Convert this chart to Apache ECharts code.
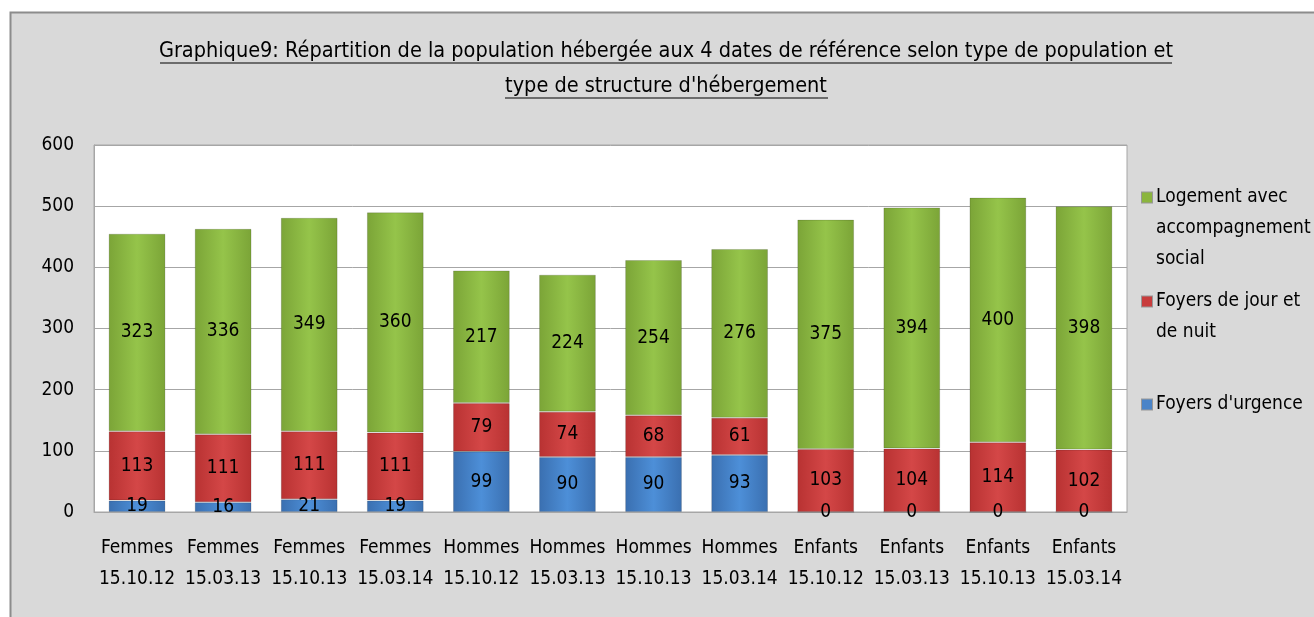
<!DOCTYPE html>
<html><head><meta charset="utf-8">
<script src="https://cdn.jsdelivr.net/npm/echarts@6/dist/echarts.min.js"></script>
<style>html,body{margin:0;padding:0;background:#fff}#c{width:1314px;height:617px}</style>
</head><body><div id="c"></div>
<script>
const categories = ['Femmes\n15.10.12','Femmes\n15.03.13','Femmes\n15.10.13','Femmes\n15.03.14','Hommes\n15.10.12','Hommes\n15.03.13','Hommes\n15.10.13','Hommes\n15.03.14','Enfants\n15.10.12','Enfants\n15.03.13','Enfants\n15.10.13','Enfants\n15.03.14'];
const urgence = [19,16,21,19,99,90,90,93,0,0,0,0];
const jourNuit = [113,111,111,111,79,74,68,61,103,104,114,102];
const logement = [323,336,349,360,217,224,254,276,375,394,400,398];
const yTicks = [0,100,200,300,400,500,600];
const names = ["Foyers d'urgence","Foyers de jour et de nuit","Logement avec accompagnement social"];
const legendLines = {"Logement avec accompagnement social":["Logement avec","accompagnement","social"],"Foyers de jour et de nuit":["Foyers de jour et","de nuit"],"Foyers d'urgence":["Foyers d'urgence"]};

const FONT = "'Liberation Sans Narrow','DejaVu Sans Condensed',sans-serif";
function grad(a,b,c){return new echarts.graphic.LinearGradient(0,0,1,0,[{offset:0,color:a},{offset:0.5,color:b},{offset:1,color:c}]);}
const colors = [grad('#3a6fb0','#4d8fd8','#3a6fb0'), grad('#b83232','#d44747','#b83232'), grad('#7ba437','#95c44a','#7ba437')];
const legendColors = ['#4a84c8','#c83c3c','#8bb53e'];
const data = [urgence, jourNuit, logement];
const legendTops = {2:182, 1:286, 0:389};

function makeLegend(i){
  const n = names[i];
  return {orient:'vertical',left:1137,top:legendTops[i],padding:0,icon:'none',itemWidth:0,itemHeight:0,itemGap:0,
    data:[n],
    formatter:nm=>legendLines[nm].map((l,k)=>(k===0?'{b|}':'{s|}')+'{t|'+l+'}').join('\n'),
    textStyle:{fontFamily:FONT,fontSize:19,color:'#000',lineHeight:31,padding:0,
      rich:{b:{width:10,height:10,backgroundColor:legendColors[i],borderColor:'rgba(0,0,0,0.3)',borderWidth:1},
            s:{width:10,height:10},
            t:{fontFamily:FONT,fontSize:19,color:'#000',lineHeight:31,padding:[0,0,0,4]}}}};
}

const chart = echarts.init(document.getElementById('c'));
chart.setOption({
  backgroundColor:'#fff',
  animation:false,
  graphic:[
    {type:'rect',z:-10,shape:{x:10.5,y:12.5,width:1320,height:620},style:{fill:'#d9d9d9',stroke:'#8c8c8c',lineWidth:2}},
    {type:'line',z:10,shape:{x1:160,y1:63,x2:1172,y2:63},style:{stroke:'#000',lineWidth:1.2}},
    {type:'line',z:10,shape:{x1:505,y1:98,x2:828,y2:98},style:{stroke:'#000',lineWidth:1.2}}
  ],
  title:{text:"Graphique9: Répartition de la population hébergée aux 4 dates de référence selon type de population et\ntype de structure d'hébergement",
    left:661,top:29,textAlign:'center',
    textStyle:{fontFamily:FONT,fontSize:21.5,fontWeight:'normal',color:'#000',lineHeight:35}},
  legend:[makeLegend(2),makeLegend(1),makeLegend(0)],
  grid:{left:94,right:187,top:145,bottom:105,show:true,backgroundColor:'#fff',borderColor:'#a6a6a6',borderWidth:1},
  xAxis:{type:'category',data:categories,
    axisLine:{lineStyle:{color:'#a6a6a6'}},axisTick:{show:false},
    axisLabel:{interval:0,fontFamily:FONT,fontSize:19,color:'#000',lineHeight:31,margin:21}},
  yAxis:{type:'value',min:0,max:600,interval:100,
    axisLine:{show:true,lineStyle:{color:'#a6a6a6'}},axisTick:{show:false},
    splitLine:{lineStyle:{color:'#a6a6a6'}},
    axisLabel:{fontFamily:FONT,fontSize:19,color:'#000',margin:20,formatter:v=>yTicks.includes(v)?String(v):''}},
  series:names.map((n,i)=>({
    name:n,type:'bar',stack:'s',barWidth:'66%',data:data[i],
    itemStyle:{color:colors[i],borderColor:'rgba(0,0,0,0.15)',borderWidth:1},
    label:{show:true,position:'inside',fontFamily:FONT,fontSize:19,color:'#000'},
    emphasis:{disabled:true}
  }))
});
</script></body></html>
